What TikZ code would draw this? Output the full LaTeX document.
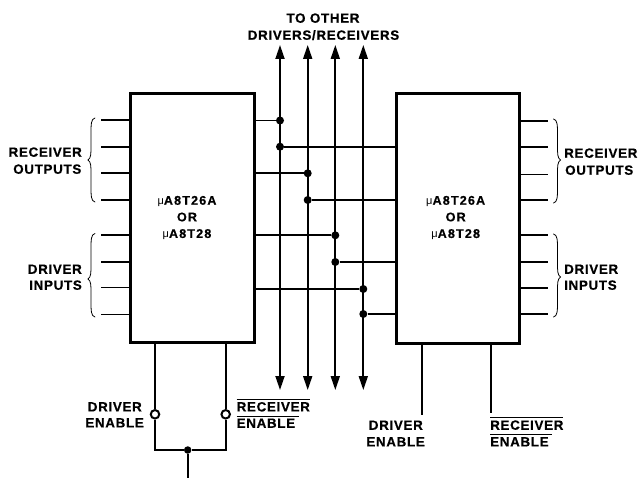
\documentclass[tikz,border=0pt]{standalone}
\usepackage{fontspec}
\setmainfont{Liberation Sans}
\newfontfamily\lablfont[LetterSpace=5,FakeBold=0.4]{Liberation Sans Bold}
\newfontfamily\chipfont[LetterSpace=9,FakeBold=0.4]{Liberation Sans Bold}
\usetikzlibrary{arrows.meta}
\newcommand{\mubold}{{\fontsize{11}{11}\selectfont\normalfont μ}}
\newcommand{\curlybrace}[5]{% xend, y0, ymid, y1, dir
  \pgfmathsetmacro{\xs}{#1-4*#5}
  \pgfmathsetmacro{\xt}{#1-7*#5}
  \draw[bracecurve] (#1,#2) .. controls (\xs,#2+1) and (\xs,#2+6) .. (\xs,#2+16)
    -- (\xs,#3-14) .. controls (\xs,#3-6) and (\xs,#3-2) .. (\xt,#3)
    .. controls (\xs,#3+2) and (\xs,#3+6) .. (\xs,#3+14)
    -- (\xs,#4-16) .. controls (\xs,#4-6) and (\xs,#4-1) .. (#1,#4);
}
\tikzset{
  chip/.style={draw=black,line width=3pt,fill=white,inner sep=0pt,minimum width=#1,minimum height=249pt},
  pin/.style={line width=1.8pt},
  wire/.style={line width=1.8pt},
  buswire/.style={line width=1.8pt,{Triangle[length=14pt,width=9pt]}-{Triangle[length=14pt,width=9pt]}},
  dot/.style={circle,fill=black,inner sep=0pt,minimum size=8pt},
  bubble/.style={circle,draw=black,fill=white,line width=2pt,inner sep=0pt,minimum size=8.5pt},
  lab/.style={inner sep=0pt,text height=9.5pt,text depth=0pt,font=\fontsize{13.4}{13.4}\selectfont\lablfont},
  chiplab/.style={inner sep=0pt,align=center,font=\fontsize{12.6}{16.6}\selectfont\chipfont},
  bracecurve/.style={line width=0.8pt,line cap=round},
}
\begin{document}
\begin{tikzpicture}[x=1pt,y=-1pt]
\useasboundingbox (0,0) rectangle (639,478);
\fill[white] (0,0) rectangle (639,478);
% chips
\node[chip=124pt] (L) at (192,218) {};
\node[chip=123pt] (R) at (457.5,218.5) {};
\node[chiplab] (Lt) at (187,218) {\mubold A8T26A\\OR\\\mubold A8T28};
\node[chiplab] (Rt) at (455.7,218) {\mubold A8T26A\\OR\\\mubold A8T28};
% pins
\foreach \n/\y in {1/120,2/146.8,3/173.3,4/200,5/235.3,6/262,7/287.5,8/314.5}{
  \coordinate (pl\n) at (101,\y);
  \draw[pin] (pl\n) -- (pl\n -| L.west);
}
\foreach \n/\y in {1/120.7,2/147.3,3/174.5,4/200,5/235.3,6/262,7/288,8/314}{
  \coordinate (pr\n) at (548,\y);
  \draw[pin] (R.east |- pr\n) -- (pr\n);
}
% buses
\foreach \n/\x in {1/280,2/307.7,3/335.3,4/363.3}{
  \coordinate (bt\n) at (\x,45);
  \coordinate (bb\n) at (\x,390);
  \draw[buswire] (bt\n) -- (bb\n);
}
% bus connections
\foreach \n/\b/\y/\z in {1/1/120.5/146.7,2/2/173.3/200,3/3/235.3/262,4/4/289/314}{
  \coordinate (ja\n) at (bt\b |- 0,\y);
  \coordinate (jb\n) at (bt\b |- 0,\z);
  \node[dot] (da\n) at (ja\n) {};
  \node[dot] (db\n) at (jb\n) {};
  \draw[wire] (L.east |- ja\n) -- (da\n);
  \draw[wire] (db\n) -- (R.west |- jb\n);
}
% left enables
\node[bubble] (bl) at (155,414.3) {};
\node[bubble] (br) at (225.7,414.3) {};
\node[dot,minimum size=7.5pt] (jn) at (187.7,450) {};
\coordinate (inp) at (187.7,478);
\draw[wire] (bl |- L.south) -- (bl);
\draw[wire] (br |- L.south) -- (br);
\draw[wire] (bl) |- (jn);
\draw[wire] (br) |- (jn);
\draw[wire] (jn) -- (inp);
% right enables
\coordinate (rd) at (422,415);
\coordinate (rr) at (491.3,412.7);
\draw[wire] (rd |- R.south) -- (rd);
\draw[wire] (rr |- R.south) -- (rr);
% braces
\curlybrace{95}{118}{160}{202}{1}
\curlybrace{95}{233.5}{279}{317}{1}
\curlybrace{553.5}{119}{160}{203}{-1}
\curlybrace{553.5}{234}{277}{317}{-1}
% labels
\node[lab,anchor=east] (t1) at (82,152) {RECEIVER};
\node[lab,anchor=east] (t2) at (81.5,169) {OUTPUTS};
\node[lab,anchor=east] (t3) at (82,269) {DRIVER};
\node[lab,anchor=east] (t4) at (82,285) {INPUTS};
\node[lab,anchor=west] (t5) at (564,153) {RECEIVER};
\node[lab,anchor=west] (t6) at (565,170) {OUTPUTS};
\node[lab,anchor=west] (t7) at (564,269) {DRIVER};
\node[lab,anchor=west] (t8) at (564,285) {INPUTS};
\node[lab] (t9) at (323,18) {TO OTHER};
\node[lab] (t10) at (323.5,35) {DRIVERS/RECEIVERS};
\node[lab,anchor=east] (t11) at (142,406.7) {DRIVER};
\node[lab,anchor=east] (t12) at (144,422.7) {ENABLE};
\node[lab,anchor=west] (t13) at (236.5,406.7) {RECEIVER};
\node[lab,anchor=west] (t14) at (236.5,423) {ENABLE};
\node[lab,anchor=east] (t15) at (423,425) {DRIVER};
\node[lab,anchor=east] (t16) at (425,441.7) {ENABLE};
\node[lab,anchor=west] (t17) at (490,425) {RECEIVER};
\node[lab,anchor=west] (t18) at (490,441.7) {ENABLE};
% overlines
\draw[line width=1pt] (t13.north west) ++(0,-2.5) -- ++(73,0);
\draw[line width=1pt] (t14.north west) ++(0,-2) -- ++(62,0);
\draw[line width=1pt] (t17.north west) ++(0,-2.5) -- ++(73,0);
\draw[line width=1pt] (t18.north west) ++(0,-2) -- ++(62,0);
\end{tikzpicture}
\end{document}
